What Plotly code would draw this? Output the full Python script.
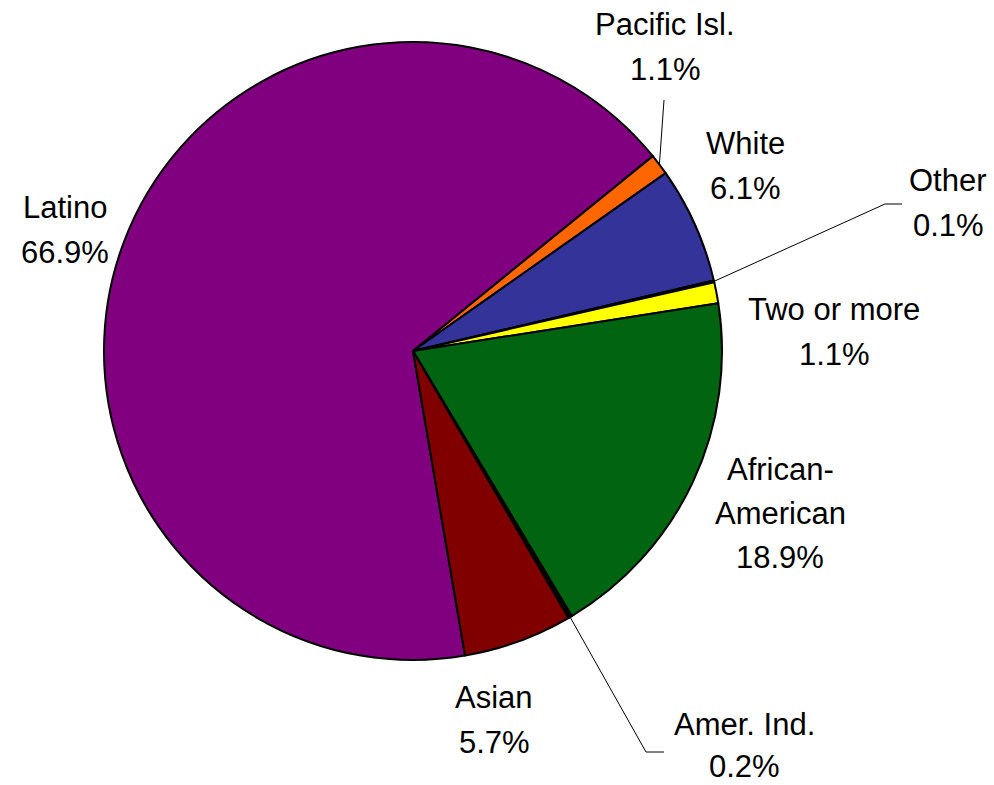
import math
import plotly.graph_objects as go

# ---- data ----
groups = ["Latino", "Pacific Isl.", "White", "Other", "Two or more",
          "African-American", "Amer. Ind.", "Asian"]
shares = [66.9, 1.1, 6.1, 0.1, 1.1, 18.9, 0.2, 5.7]
label_lines = [["Latino"], ["Pacific Isl."], ["White"], ["Other"], ["Two or more"],
               ["African-", "American"], ["Amer. Ind."], ["Asian"]]

# ---- styling / layout ----
colors = ["#800080", "#FF6600", "#333399", "#1a1a1a", "#FFFF00",
          "#006411", "#000000", "#800000"]
W, H = 994, 785
CX, CY, R = 413, 351, 309          # pie centre / radius in pixels
LATINO_END = 50.9                  # clockwise degrees from 12 o'clock
FONT = dict(family="Liberation Sans, Arial, sans-serif", size=31, color="black")

# label centres (pixel, first line) and line gap per group
label_pos = {
    "Latino": (65, 208, 45),
    "Pacific Isl.": (665, 25, 45),
    "White": (745, 144, 45),
    "Other": (948, 181, 45),
    "Two or more": (834, 309, 45),
    "African-American": (780, 469, 44),
    "Amer. Ind.": (744, 724, 42),
    "Asian": (494, 697, 45),
}
# leader-line bends (pixel) for small slices
leaders = {
    "Pacific Isl.": [(664, 100)],
    "Other": [(885, 204), (902, 204)],
    "Amer. Ind.": [(646, 752), (664, 752)],
}

def px(x):
    return x / W

def py(y):
    return 1 - y / H

total = sum(shares)
rotation = LATINO_END - shares[0] / total * 360

fig = go.Figure(go.Pie(
    labels=groups, values=shares, sort=False, direction="clockwise",
    rotation=rotation, textinfo="none", hoverinfo="label+percent",
    marker=dict(colors=colors, line=dict(color="black", width=2)),
    domain=dict(x=[px(CX - R), px(CX + R)], y=[py(CY + R), py(CY - R)]),
    showlegend=False,
))

annotations = []
shapes = []
cum = rotation
for g, v, lines in zip(groups, shares, label_lines):
    mid = cum + v / total * 360 / 2
    cum += v / total * 360
    x0, y0, gap = label_pos[g]
    texts = lines + [f"{v:.1f}%"]
    for i, t in enumerate(texts):
        annotations.append(dict(
            x=px(x0), y=py(y0 + i * gap), xref="paper", yref="paper",
            text=t, showarrow=False, font=FONT, xanchor="center", yanchor="middle"))
    if g in leaders:
        a = math.radians(mid)
        pts = [(CX + R * math.sin(a), CY - R * math.cos(a))] + leaders[g]
        for (xa, ya), (xb, yb) in zip(pts[:-1], pts[1:]):
            shapes.append(dict(type="line", xref="paper", yref="paper",
                               x0=px(xa), y0=py(ya), x1=px(xb), y1=py(yb),
                               line=dict(color="black", width=1)))

fig.update_layout(
    width=W, height=H, margin=dict(l=0, r=0, t=0, b=0),
    paper_bgcolor="white", plot_bgcolor="white",
    annotations=annotations, shapes=shapes,
)
fig.write_html("out.html")
